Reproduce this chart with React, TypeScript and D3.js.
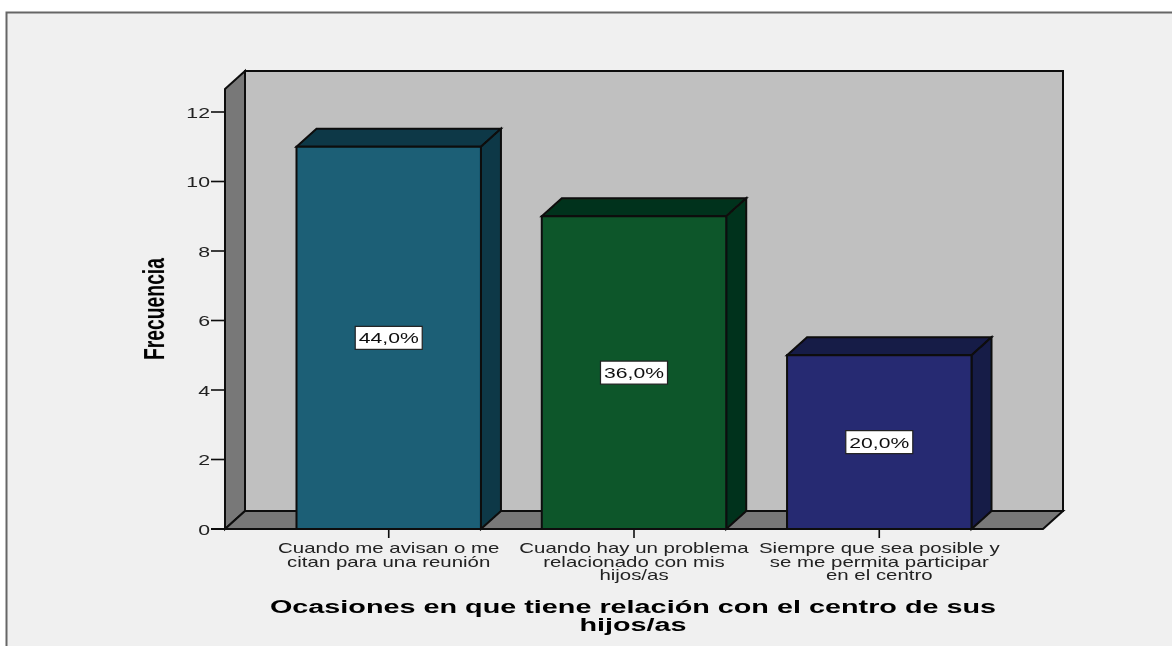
import * as d3 from 'd3';

const categories = ['avisan', 'problema', 'siempre'];
const counts = [11, 9, 5];
const percentLabels = ['44,0%', '36,0%', '20,0%'];
const categoryLines = [
  ['Cuando me avisan o me', 'citan para una reunión'],
  ['Cuando hay un problema', 'relacionado con mis', 'hijos/as'],
  ['Siempre que sea posible y', 'se me permita participar', 'en el centro'],
];
const yTicks = [0, 2, 4, 6, 8, 10, 12];
const frontColors = ['#1b5e76', '#09562c', '#272a72'];
const sideColors = ['#113946', '#06331a', '#171a47'];
const titleLines = ['Ocasiones en que tiene relación con el centro de sus', 'hijos/as'];

const WIDTH = 1172;
const HEIGHT = 646;
const DX = 20;
const DY = -18;
const INK = '#0c0c0c';
const SANS = '"Liberation Sans", Arial, sans-serif';

const y = d3.scaleLinear().domain([0, 12]).range([529, 112]);
const x = d3
  .scaleBand<string>()
  .domain(categories)
  .range([225, 1043])
  .paddingInner(0.248)
  .paddingOuter(0.2915);

const plotTop = 89;

const poly = (pts: [number, number][]) => {
  const line = d3.line();
  return line(pts) + 'Z';
};

export default function App() {
  const left = x.range()[0];
  const right = x.range()[1];
  const base = y(0);
  return (
    <div style={{ position: 'absolute', left: 0, top: 0 }}>
      <svg width={WIDTH} height={HEIGHT} style={{ display: 'block', background: '#fff' }}>
        <defs>
          <filter id="soft" x="-5%" y="-5%" width="110%" height="110%">
            <feGaussianBlur stdDeviation="0.45" />
          </filter>
        </defs>
        <rect x={6.5} y={12.5} width={1180} height={660} fill="#f0f0f0" stroke="#666" strokeWidth={2} />
        <g filter="url(#soft)">
          {/* back wall */}
          <rect
            x={left + DX}
            y={plotTop + DY}
            width={right - left}
            height={base - plotTop}
            fill="#c0c0c0"
            stroke={INK}
            strokeWidth={2}
          />
          {/* left wall */}
          <path
            d={poly([
              [left, plotTop],
              [left + DX, plotTop + DY],
              [left + DX, base + DY],
              [left, base],
            ])}
            fill="#787878"
            stroke={INK}
            strokeWidth={2}
          />
          {/* floor */}
          <path
            d={poly([
              [left, base],
              [left + DX, base + DY],
              [right + DX, base + DY],
              [right, base],
            ])}
            fill="#787878"
            stroke={INK}
            strokeWidth={2}
          />

          {categories.map((c, i) => {
            const x0 = x(c)!;
            const x1 = x0 + x.bandwidth();
            const top = y(counts[i]);
            return (
              <g key={c} stroke={INK} strokeWidth={2}>
                <path
                  d={poly([
                    [x0, top],
                    [x0 + DX, top + DY],
                    [x1 + DX, top + DY],
                    [x1, top],
                  ])}
                  fill={sideColors[i]}
                />
                <path
                  d={poly([
                    [x1, top],
                    [x1 + DX, top + DY],
                    [x1 + DX, base + DY],
                    [x1, base],
                  ])}
                  fill={sideColors[i]}
                />
                <rect x={x0} y={top} width={x1 - x0} height={base - top} fill={frontColors[i]} />
              </g>
            );
          })}

          {/* value labels */}
          {categories.map((c, i) => {
            const cx = x(c)! + x.bandwidth() / 2;
            const cy = y(counts[i] / 2);
            return (
              <g key={c} transform={`translate(${cx},${cy})`}>
                <rect x={-33.5} y={-11.5} width={67} height={23} fill="#fff" stroke="#222" strokeWidth={1.2} />
                <text
                  transform="scale(1.41,1)"
                  y={5.5}
                  textAnchor="middle"
                  fontFamily={SANS}
                  fontSize={15}
                  fill="#111"
                >
                  {percentLabels[i]}
                </text>
              </g>
            );
          })}

          {/* y axis */}
          <line x1={211} x2={right} y1={base} y2={base} stroke={INK} strokeWidth={2} />
          {yTicks.map((t) => (
            <g key={t} transform={`translate(0,${y(t)})`}>
              <line x1={211} x2={left} stroke={INK} strokeWidth={1.6} />
              <text
                transform="translate(210,5.5) scale(1.42,1)"
                textAnchor="end"
                fontFamily={SANS}
                fontSize={15}
                fill="#222"
              >
                {t}
              </text>
            </g>
          ))}
          <text
            transform="translate(164.5,309) rotate(-90) scale(1,1.52)"
            textAnchor="middle"
            fontFamily={SANS}
            fontWeight="bold"
            fontSize={19.3}
            fill="#000"
          >
            Frecuencia
          </text>

          {/* x axis */}
          {categories.map((c, i) => {
            const cx = x(c)! + x.bandwidth() / 2;
            return (
              <g key={c} transform={`translate(${cx},0)`}>
                <line y1={base} y2={base + 9} stroke={INK} strokeWidth={1.6} />
                {categoryLines[i].map((line, k) => (
                  <text
                    key={line}
                    transform={`translate(0,${553 + k * 13.5}) scale(1.46,1)`}
                    textAnchor="middle"
                    fontFamily={SANS}
                    fontSize={14}
                    fill="#222"
                  >
                    {line}
                  </text>
                ))}
              </g>
            );
          })}

          {titleLines.map((line, k) => (
            <text
              key={line}
              transform={`translate(633,${613 + k * 18}) scale(1.6,1)`}
              textAnchor="middle"
              fontFamily={SANS}
              fontWeight="bold"
              fontSize={18}
              fill="#000"
            >
              {line}
            </text>
          ))}
        </g>
      </svg>
    </div>
  );
}
